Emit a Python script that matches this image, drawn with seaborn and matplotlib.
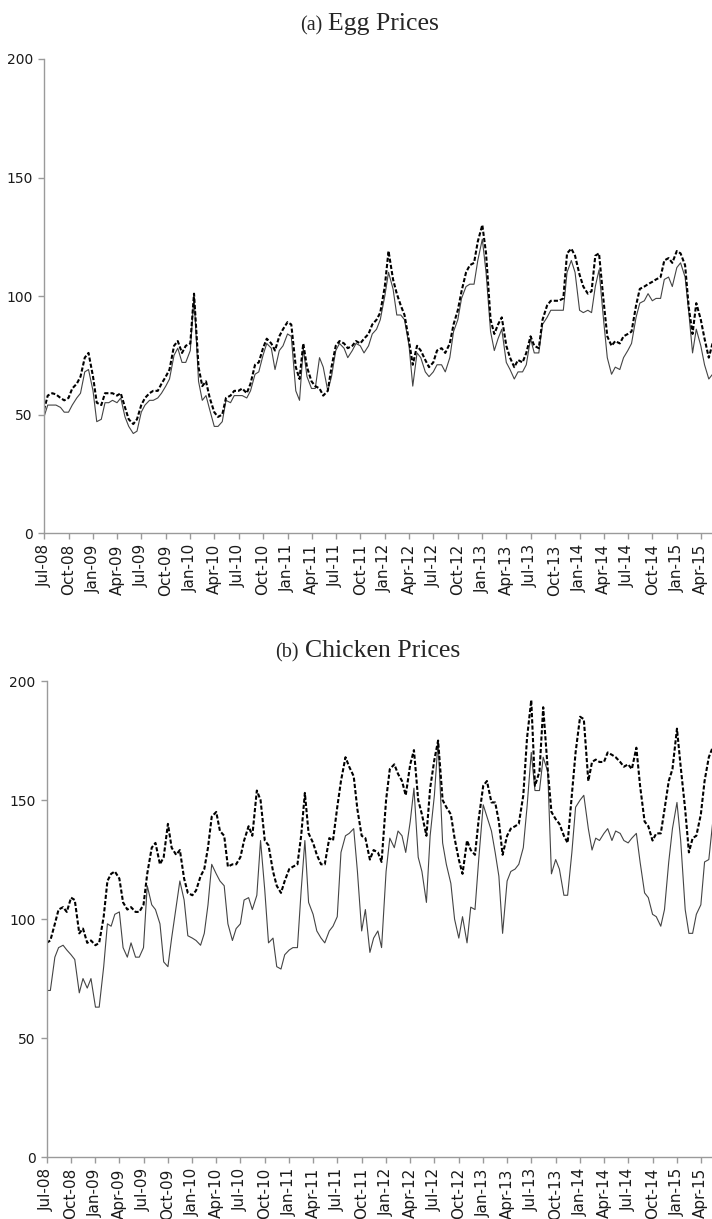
import numpy as np
import pandas as pd
import matplotlib
matplotlib.use("Agg")
import matplotlib.pyplot as plt
import matplotlib.dates as mdates
import seaborn as sns

# half-monthly readings (1st and 15th of each month), Jul-08 .. May-15
months = pd.date_range("2008-07-01", "2015-05-01", freq="MS")
dates = pd.DatetimeIndex(sorted(list(months) + list(months + pd.Timedelta(days=14))))

egg_solid = [
    49, 54, 54, 54, 53, 51,
    51, 54, 57, 59, 68, 69,
    60, 47, 48, 55, 55, 56,
    55, 57, 49, 45, 42, 43,
    51, 54, 56, 56, 57, 59,
    62, 65, 75, 78, 72, 72,
    77, 100, 64, 56, 58, 52,
    45, 45, 47, 56, 55, 58,
    58, 58, 57, 60, 67, 68,
    75, 80, 78, 69, 77, 79,
    84, 83, 60, 56, 78, 66,
    61, 61, 74, 70, 60, 66,
    77, 80, 78, 74, 77, 80,
    79, 76, 79, 84, 86, 90,
    100, 110, 103, 92, 92, 90,
    79, 62, 76, 74, 68, 66,
    68, 71, 71, 68, 74, 85,
    90, 99, 104, 105, 105, 115,
    124, 110, 85, 77, 82, 86,
    72, 69, 65, 68, 68, 71,
    82, 76, 76, 88, 91, 94,
    94, 94, 94, 110, 115, 110,
    94, 93, 94, 93, 104, 111,
    90, 74, 67, 70, 69, 74,
    77, 80, 91, 97, 98, 101,
    98, 99, 99, 107, 108, 104,
    112, 114, 108, 93, 76, 86,
    79, 71, 65, 67,
]
egg_dashed = [
    52, 58, 59, 58.5, 57, 56,
    57, 61, 63, 66, 74, 76,
    66, 55, 54, 59, 59, 59,
    58, 59, 53, 48, 46, 48,
    54, 57, 59, 60, 60, 63,
    66, 69, 79, 81, 76, 79,
    80, 101, 70, 62, 64, 57,
    51, 49, 50, 57, 58, 60,
    60, 61, 59, 63, 71, 72,
    78, 82, 80, 77, 83, 86,
    89, 88, 70, 65, 80, 70,
    64, 62, 61, 58, 60, 70,
    79, 81, 80, 78, 79, 81,
    80, 82, 84, 88, 90, 93,
    104, 119, 107, 101, 96, 92,
    81, 71, 79, 77, 73, 70,
    72, 77, 78, 76, 80, 88,
    94, 102, 110, 113, 114, 123,
    130, 118, 90, 84, 88, 91,
    79, 74, 70, 73, 72, 76,
    83, 79, 78, 90, 96, 98,
    98, 98, 99, 118, 120, 117,
    109, 104, 101, 102, 117, 118,
    98, 83, 79, 81, 80, 83,
    84, 85, 96, 103, 104, 105,
    106, 107, 108, 115, 116, 114,
    119, 118, 113, 95, 84, 97,
    90, 82, 74, 80,
]
chicken_solid = [
    70, 70, 84, 88, 89, 87,
    85, 83, 69, 75, 71, 75,
    63, 63, 80, 98, 97, 102,
    103, 88, 84, 90, 84, 84,
    88, 114, 106, 104, 98, 82,
    80, 92, 105, 116, 108, 93,
    92, 91, 89, 94, 106, 123,
    119, 116, 114, 98, 91, 96,
    98, 108, 109, 104, 110, 133,
    112, 90, 92, 80, 79, 85,
    87, 88, 88, 112, 133, 107,
    102, 95, 92, 90, 95, 97,
    101, 128, 135, 136, 138, 120,
    95, 104, 86, 92, 95, 88,
    120, 134, 130, 137, 135, 128,
    141, 155, 126, 120, 107, 135,
    152, 175, 132, 123, 115, 100,
    92, 101, 90, 105, 104, 125,
    148, 143, 137, 128, 118, 94,
    116, 120, 121, 123, 130, 147,
    170, 154, 154, 168, 162, 119,
    125, 121, 110, 110, 128, 147,
    150, 152, 138, 129, 134, 133,
    136, 138, 133, 137, 136, 133,
    132, 134, 136, 124, 111, 109,
    102, 101, 97, 104, 124, 138,
    149, 133, 104, 94, 94, 102,
    106, 124, 125, 140,
]
chicken_dashed = [
    90, 91, 98, 104, 105, 103,
    109, 108, 94, 96, 90, 91,
    89, 90, 101, 116, 119, 120,
    117, 107, 104, 105, 103, 103,
    106, 119, 130, 132, 123, 126,
    140, 130, 127, 129, 117, 111,
    110, 112, 118, 121, 130, 143,
    145, 137, 135, 122, 123, 123,
    126, 133, 139, 135, 154, 150,
    133, 131, 120, 114, 111, 116,
    121, 122, 123, 135, 153, 136,
    132, 127, 123, 123, 134, 133,
    147, 158, 168, 164, 160, 146,
    135, 134, 125, 129, 128, 124,
    150, 163, 165, 161, 158, 152,
    165, 171, 150, 144, 135, 155,
    167, 175, 150, 147, 144, 134,
    125, 119, 133, 129, 127, 142,
    156, 158, 149, 149, 141, 127,
    135, 138, 139, 140, 152, 176,
    192, 156, 162, 189, 163, 145,
    142, 140, 135, 132, 152, 170,
    185, 184, 158, 166, 167, 166,
    166, 170, 169, 168, 166, 164,
    165, 163, 172, 156, 141, 139,
    133, 136, 136, 146, 158, 163,
    180, 164, 146, 128, 134, 135,
    144, 158, 168, 172,
]

panels = [
    ("(a)", "Egg Prices", egg_solid, egg_dashed),
    ("(b)", "Chicken Prices", chicken_solid, chicken_dashed),
]

sns.set_style("ticks")
plt.rcParams["font.family"] = ["DejaVu Sans"]

AXIS_GREY = "#9a9a9a"
SOLID_GREY = "#444444"

fig = plt.figure(figsize=(7.12, 12.19), dpi=100)
# [left, bottom, width, height] in figure fraction
boxes = [
    [0.0618, 0.5627, 0.9382, 0.3889],
    [0.0655, 0.0508, 0.9345, 0.3905],
]
title_pos = [(322, 1 - 30 / 1219), (299, 1 - 657 / 1219)]

for (tag, name, solid, dashed), box, (tx, ty) in zip(panels, boxes, title_pos):
    ax = fig.add_axes(box)
    sns.lineplot(x=dates, y=solid, ax=ax, color=SOLID_GREY, linewidth=0.8)
    sns.lineplot(x=dates, y=dashed, ax=ax, color="black", linewidth=1.5,
                 linestyle=(0, (2, 1)))

    ax.set_ylim(0, 200)
    ax.set_yticks([0, 50, 100, 150, 200])
    ax.set_xlim(pd.Timestamp("2008-07-01"), pd.Timestamp("2015-05-13"))
    ax.xaxis.set_major_locator(mdates.MonthLocator(bymonth=[1, 4, 7, 10]))
    ax.xaxis.set_major_formatter(mdates.DateFormatter("%b-%y"))
    ax.set_xlabel("")
    ax.set_ylabel("")

    for side in ["top", "right"]:
        ax.spines[side].set_visible(False)
    for side in ["left", "bottom"]:
        ax.spines[side].set_color(AXIS_GREY)
        ax.spines[side].set_linewidth(1.0)

    ax.tick_params(axis="both", color=AXIS_GREY, length=4, width=1.0,
                   labelcolor="#1a1a1a", direction="out")
    ax.tick_params(axis="y", labelsize=10, pad=4)
    ax.tick_params(axis="x", labelsize=11, pad=4, labelrotation=90)

    fig.text(tx / 712, ty, tag, ha="right", va="baseline",
             family="Liberation Serif", fontsize=14.5)
    fig.text((tx + 6) / 712, ty, name, ha="left", va="baseline",
             family="Liberation Serif", fontsize=18.5)

fig.savefig("out.png", dpi=100)
plt.close(fig)
